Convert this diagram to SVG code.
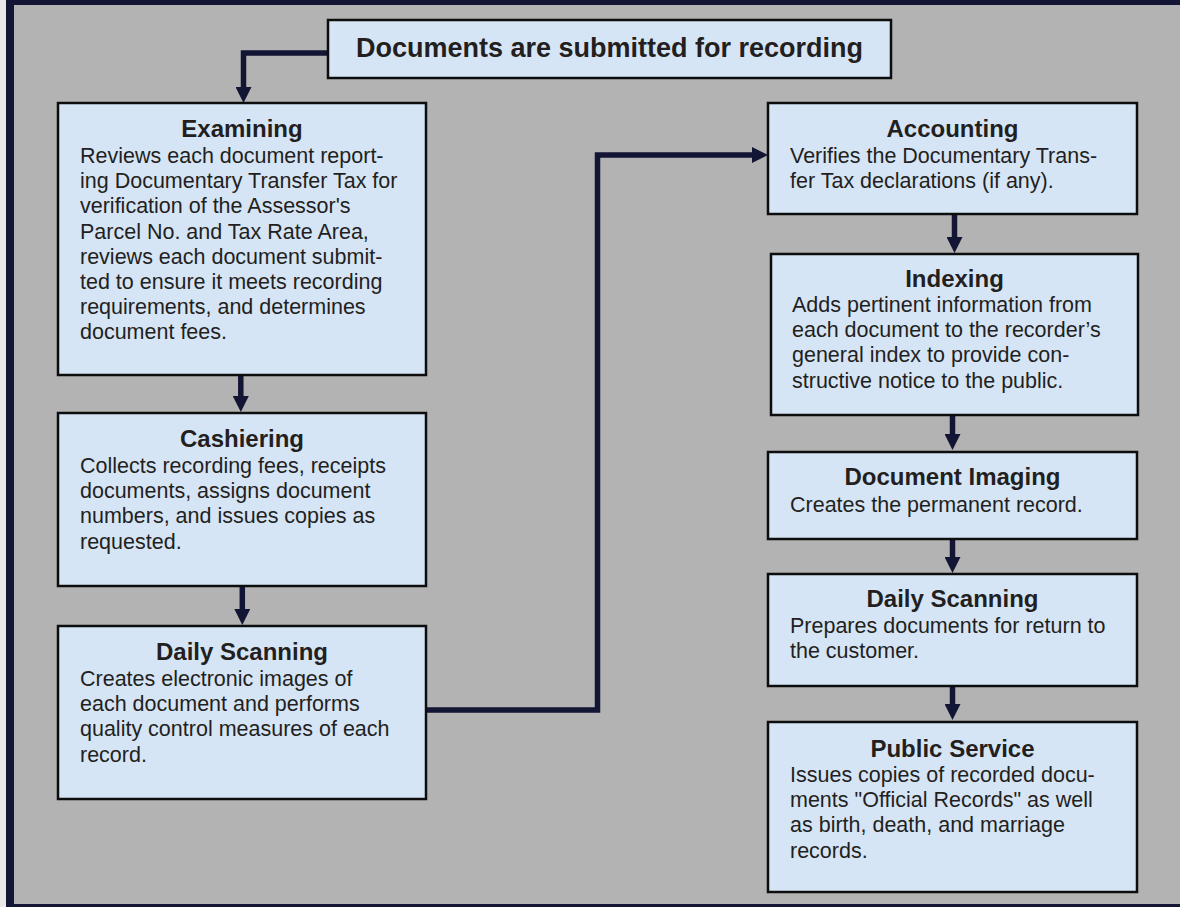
<svg xmlns="http://www.w3.org/2000/svg" width="1180" height="907" viewBox="0 0 1180 907">
<defs>
<style>
.box{fill:#d6e5f6;stroke:#0d0d0d;stroke-width:2.5}
.h{font-family:"Liberation Sans",Arial,sans-serif;font-weight:bold;font-size:24px;fill:#231f20;text-anchor:middle}
.t{font-family:"Liberation Sans",Arial,sans-serif;font-size:21.5px;fill:#231f20}
.title{font-family:"Liberation Sans",Arial,sans-serif;font-weight:bold;font-size:27px;fill:#231f20;text-anchor:middle}
.c{fill:none;stroke:#131535;stroke-width:5.5;stroke-linejoin:miter}
</style>
<marker id="ah" viewBox="0 0 16 16" markerWidth="16" markerHeight="16" markerUnits="userSpaceOnUse" refX="0" refY="8" orient="auto">
<path d="M0,0 L16,8 L0,16 Z" fill="#131535"/>
</marker>
</defs>
<rect x="0" y="0" width="1180" height="907" fill="#b3b3b3"/>
<rect x="0" y="0" width="6" height="907" fill="#e8e8e8"/>
<rect x="6" y="0" width="8" height="907" fill="#131535"/>
<rect x="6" y="0" width="1174" height="5" fill="#131535"/>
<rect x="6" y="904" width="1174" height="3" fill="#131535"/>

<g id="connectors">
<path class="c" d="M328,53 H243.5 V87" marker-end="url(#ah)"/>
<path class="c" d="M240.8,376 V396" marker-end="url(#ah)"/>
<path class="c" d="M242.3,587 V609" marker-end="url(#ah)"/>
<path class="c" d="M426,710 H597.5 V155 H752" marker-end="url(#ah)"/>
<path class="c" d="M954.5,215 V237" marker-end="url(#ah)"/>
<path class="c" d="M952.5,416 V434" marker-end="url(#ah)"/>
<path class="c" d="M952.5,540 V557" marker-end="url(#ah)"/>
<path class="c" d="M952.5,687 V704" marker-end="url(#ah)"/>
</g>

<g id="n-title">
<rect class="box" x="328" y="20" width="563" height="58"/>
<text class="title" x="609.5" y="57">Documents are submitted for recording</text>
</g>

<g id="n-examining">
<rect class="box" x="58" y="103" width="368" height="272"/>
<text class="h" x="242" y="137">Examining</text>
<text class="t" x="80" y="163">Reviews each document report-</text>
<text class="t" x="80" y="188.2">ing Documentary Transfer Tax for</text>
<text class="t" x="80" y="213.4">verification of the Assessor's</text>
<text class="t" x="80" y="238.6">Parcel No. and Tax Rate Area,</text>
<text class="t" x="80" y="263.8">reviews each document submit-</text>
<text class="t" x="80" y="289">ted to ensure it meets recording</text>
<text class="t" x="80" y="314.2">requirements, and determines</text>
<text class="t" x="80" y="339.4">document fees.</text>
</g>

<g id="n-cashiering">
<rect class="box" x="58" y="413" width="368" height="173"/>
<text class="h" x="242" y="447">Cashiering</text>
<text class="t" x="80" y="473">Collects recording fees, receipts</text>
<text class="t" x="80" y="498.2">documents, assigns document</text>
<text class="t" x="80" y="523.4">numbers, and issues copies as</text>
<text class="t" x="80" y="548.6">requested.</text>
</g>

<g id="n-scanning-left">
<rect class="box" x="58" y="626" width="368" height="173"/>
<text class="h" x="242" y="660">Daily Scanning</text>
<text class="t" x="80" y="686">Creates electronic images of</text>
<text class="t" x="80" y="711.2">each document and performs</text>
<text class="t" x="80" y="736.4">quality control measures of each</text>
<text class="t" x="80" y="761.6">record.</text>
</g>

<g id="n-accounting">
<rect class="box" x="768" y="103" width="369" height="111"/>
<text class="h" x="952.5" y="137">Accounting</text>
<text class="t" x="790" y="162.5">Verifies the Documentary Trans-</text>
<text class="t" x="790" y="187.7">fer Tax declarations (if any).</text>
</g>

<g id="n-indexing">
<rect class="box" x="771" y="254" width="367" height="161"/>
<text class="h" x="954.5" y="287">Indexing</text>
<text class="t" x="792" y="312">Adds pertinent information from</text>
<text class="t" x="792" y="337.2">each document to the recorder’s</text>
<text class="t" x="792" y="362.4">general index to provide con-</text>
<text class="t" x="792" y="387.6">structive notice to the public.</text>
</g>

<g id="n-imaging">
<rect class="box" x="768" y="452" width="369" height="87"/>
<text class="h" x="952.5" y="485">Document Imaging</text>
<text class="t" x="790" y="511.5">Creates the permanent record.</text>
</g>

<g id="n-scanning-right">
<rect class="box" x="768" y="574" width="369" height="112"/>
<text class="h" x="952.5" y="607">Daily Scanning</text>
<text class="t" x="790" y="633">Prepares documents for return to</text>
<text class="t" x="790" y="658.2">the customer.</text>
</g>

<g id="n-public">
<rect class="box" x="768" y="722" width="369" height="170"/>
<text class="h" x="952.5" y="757">Public Service</text>
<text class="t" x="790" y="782">Issues copies of recorded docu-</text>
<text class="t" x="790" y="807.2">ments "Official Records" as well</text>
<text class="t" x="790" y="832.4">as birth, death, and marriage</text>
<text class="t" x="790" y="857.6">records.</text>
</g>
</svg>
